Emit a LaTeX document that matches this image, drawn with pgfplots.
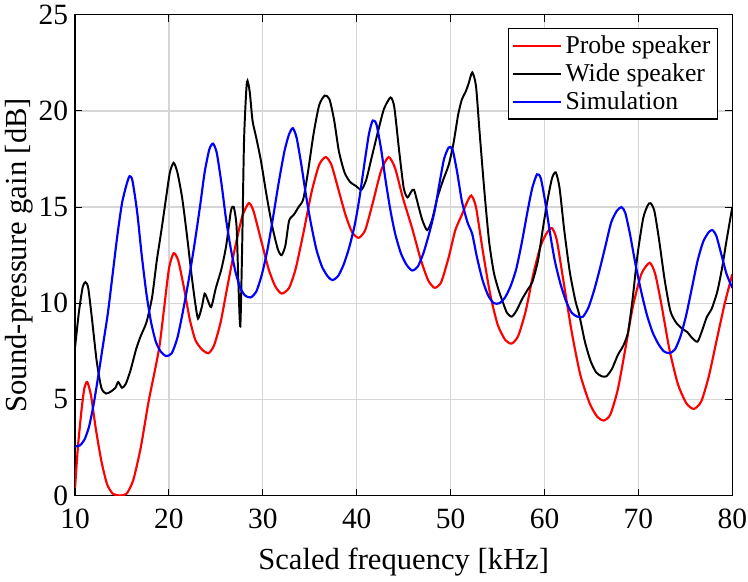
\documentclass[border=0pt]{standalone}
\usepackage{fontspec}
\setmainfont{Liberation Serif}
\usepackage{pgfplots}
\pgfplotsset{compat=1.18}

\pgfplotstableread{
f g
10.0 0.4
10.3 2.5
10.7 4.5
11.0 5.6
11.3 5.9
11.7 5.2
12.2 3.5
12.8 1.8
13.4 0.6
14.0 0.1
14.8 0.0
15.5 0.1
16.2 0.8
17.0 2.5
17.8 4.8
18.5 6.5
19.0 7.8
19.5 9.8
20.0 11.8
20.5 12.6
21.0 12.2
21.6 10.8
22.2 9.2
22.8 8.1
23.5 7.6
24.2 7.4
24.8 7.8
25.5 9.0
26.2 10.8
27.0 12.8
27.8 14.5
28.5 15.2
29.0 14.8
29.8 13.3
30.6 11.8
31.3 10.9
32.0 10.5
32.8 10.8
33.5 11.8
34.3 13.6
35.2 15.8
36.0 17.2
36.7 17.6
37.3 17.2
38.0 16.0
38.8 14.6
39.5 13.7
40.2 13.4
40.9 13.8
41.7 15.2
42.6 16.9
43.4 17.6
44.1 17.0
44.9 15.5
45.9 13.9
46.8 12.3
47.6 11.2
48.3 10.8
49.0 11.1
49.8 12.4
50.5 13.8
51.2 14.6
51.7 15.2
52.2 15.6
52.7 15.0
53.4 12.8
54.2 10.5
55.0 8.9
55.8 8.1
56.5 7.9
57.2 8.3
58.0 9.6
58.8 11.5
59.6 13.0
60.3 13.7
60.8 13.9
61.3 13.3
62.0 11.2
62.9 8.5
63.8 6.3
64.8 4.8
65.6 4.1
66.3 3.9
67.0 4.2
67.8 5.5
68.6 7.6
69.4 9.8
70.3 11.5
71.2 12.1
71.8 11.5
72.5 9.8
73.3 7.6
74.2 5.8
75.1 4.8
75.9 4.5
76.7 4.9
77.5 6.2
78.3 8.0
79.2 10.0
80.0 11.5
}\probe

\pgfplotstableread{
f g
10.0 7.7
10.4 9.5
10.8 10.8
11.1 11.1
11.4 10.8
11.8 9.2
12.3 7.0
12.8 5.6
13.3 5.3
13.8 5.4
14.3 5.6
14.6 5.9
15.0 5.6
15.4 5.8
15.9 6.5
16.5 7.6
17.0 8.3
17.6 9.0
18.2 10.3
18.7 12.2
19.2 13.8
19.7 15.5
20.1 16.8
20.5 17.3
20.9 16.8
21.4 15.5
21.9 13.6
22.4 11.5
22.8 10.0
23.1 9.2
23.5 9.8
23.8 10.5
24.1 10.2
24.5 9.8
25.0 10.8
25.6 11.8
26.1 13.0
26.6 14.8
26.9 15.0
27.2 14.0
27.4 11.0
27.6 8.8
27.8 13.0
28.0 18.5
28.3 21.5
28.6 21.0
28.9 19.5
29.3 18.6
29.8 17.4
30.4 15.6
31.0 14.0
31.6 12.8
32.0 12.5
32.4 13.0
32.8 14.3
33.3 14.6
33.8 15.0
34.3 15.4
34.8 16.8
35.4 18.8
36.0 20.3
36.6 20.8
37.1 20.6
37.6 19.5
38.1 17.9
38.7 16.8
39.3 16.3
39.9 16.1
40.5 15.9
41.0 16.4
41.6 17.6
42.3 19.0
42.9 20.1
43.6 20.7
44.0 20.2
44.5 18.0
45.0 16.0
45.4 15.5
45.8 15.8
46.1 15.9
46.6 15.0
47.0 14.3
47.5 13.8
48.0 14.3
48.6 15.5
49.2 16.4
49.8 17.2
50.3 18.3
50.8 19.8
51.2 20.6
51.6 21.0
51.9 21.4
52.3 22.0
52.7 21.3
53.1 18.8
53.6 15.8
54.1 13.2
54.6 11.6
55.1 10.7
55.6 10.0
56.0 9.5
56.5 9.3
57.0 9.6
57.6 10.2
58.2 10.7
58.7 11.1
59.3 12.2
59.8 13.8
60.3 15.3
60.8 16.5
61.2 16.8
61.6 16.0
62.1 13.8
62.7 11.6
63.3 10.1
63.7 9.4
64.3 8.0
64.9 7.0
65.5 6.4
66.1 6.2
66.6 6.2
67.2 6.6
67.8 7.3
68.4 7.8
68.9 8.5
69.4 10.3
69.9 12.5
70.5 14.4
71.0 15.1
71.3 15.2
71.7 14.8
72.2 13.3
72.8 11.2
73.4 9.6
74.0 9.0
74.6 8.7
75.2 8.5
75.7 8.2
76.3 8.0
76.8 8.6
77.3 9.3
77.8 9.7
78.4 10.6
78.9 11.8
79.4 13.3
80.0 15.0
}\wide

\pgfplotstableread{
f g
10.0 2.55
10.5 2.6
11.0 2.9
11.5 3.6
12.0 4.8
12.5 6.3
13.0 7.9
13.5 9.5
14.0 11.5
14.5 13.5
15.0 15.2
15.5 16.2
15.8 16.6
16.1 16.4
16.6 14.8
17.1 12.5
17.6 10.5
18.1 9.0
18.6 8.0
19.1 7.5
19.7 7.25
20.3 7.4
20.9 8.2
21.5 9.6
22.1 11.2
22.7 13.0
23.3 15.0
23.8 16.8
24.3 18.0
24.7 18.3
25.1 17.8
25.6 16.2
26.1 14.3
26.6 12.8
27.1 11.6
27.6 10.8
28.1 10.4
28.7 10.3
29.3 10.6
29.9 11.5
30.5 12.8
31.1 14.5
31.7 16.3
32.3 17.9
32.8 18.8
33.2 19.1
33.6 18.6
34.1 17.2
34.6 15.6
35.1 14.2
35.7 12.8
36.3 11.9
36.9 11.4
37.4 11.2
38.0 11.4
38.6 12.0
39.2 12.9
39.8 14.1
40.3 15.5
40.8 17.2
41.3 18.8
41.7 19.5
42.1 19.3
42.6 18.0
43.1 16.3
43.6 14.8
44.1 13.6
44.7 12.6
45.3 12.0
45.9 11.7
46.5 11.9
47.1 12.6
47.7 13.6
48.3 14.8
48.8 16.2
49.3 17.5
49.8 18.1
50.2 18.0
50.7 16.8
51.2 15.3
51.8 14.2
52.3 13.6
52.8 12.4
53.4 11.2
54.0 10.4
54.6 10.0
55.2 10.0
55.8 10.3
56.4 10.9
57.0 11.8
57.6 13.2
58.2 14.8
58.7 16.0
59.2 16.7
59.6 16.5
60.1 15.2
60.6 13.6
61.1 12.2
61.7 11.0
62.3 10.1
62.9 9.5
63.5 9.3
64.1 9.3
64.7 9.8
65.3 10.7
65.9 11.8
66.5 13.0
67.1 14.2
67.7 14.8
68.2 15.0
68.6 14.7
69.1 13.6
69.7 12.0
70.3 10.6
70.9 9.4
71.5 8.5
72.1 7.9
72.7 7.5
73.3 7.4
73.9 7.6
74.5 8.3
75.1 9.4
75.7 10.8
76.3 12.2
76.9 13.2
77.5 13.7
77.9 13.8
78.3 13.5
78.8 12.6
79.4 11.5
80.0 10.8
}\simul

\begin{document}
\begin{tikzpicture}
\begin{axis}[
  scale only axis,
  width=335pt, height=245pt,
  xmin=10, xmax=80, ymin=0, ymax=25,
  xtick={10,20,...,80}, ytick={0,5,...,25},
  grid=major,
  major grid style={black!16, line width=0.6pt},
  tick align=inside,
  major tick length=3.5pt,
  tick style={black, line width=0.5pt},
  axis line style={black, line width=0.6pt},
  /pgf/number format/assume math mode=true,
  tick label style={font=\fontsize{15}{17}\selectfont},
  xticklabel style={inner xsep=0.5pt},
  yticklabel style={inner ysep=2.5pt},
  xticklabel shift=3.5pt,
  yticklabel shift=0pt,
  label style={font=\fontsize{15.6}{18}\selectfont},
  xlabel={Scaled frequency [kHz]},
  ylabel={Sound-pressure gain [dB]},
  xlabel style={inner ysep=3pt, yshift=-3pt},
  ylabel style={inner ysep=2.5pt, yshift=-3pt},
  legend cell align=left,
  legend style={at={(0.978,0.973)}, anchor=north east, draw=black,
    line width=0.6pt, font=\fontsize{13.1}{15}\selectfont,
    inner xsep=1.5pt, inner ysep=1.5pt, row sep=-0.3pt},
  legend image code/.code={\draw[#1] (0cm,0cm) -- (0.86cm,0cm);},
]
\addplot[red, line width=1.1pt, smooth, tension=0.4] table[x=f, y=g] {\probe};
\addlegendentry{Probe speaker}
\addplot[black, line width=1pt, smooth, tension=0.4] table[x=f, y=g] {\wide};
\addlegendentry{Wide speaker}
\addplot[blue, line width=1.1pt, smooth, tension=0.4] table[x=f, y=g] {\simul};
\addlegendentry{Simulation}
\end{axis}
\end{tikzpicture}
\end{document}
